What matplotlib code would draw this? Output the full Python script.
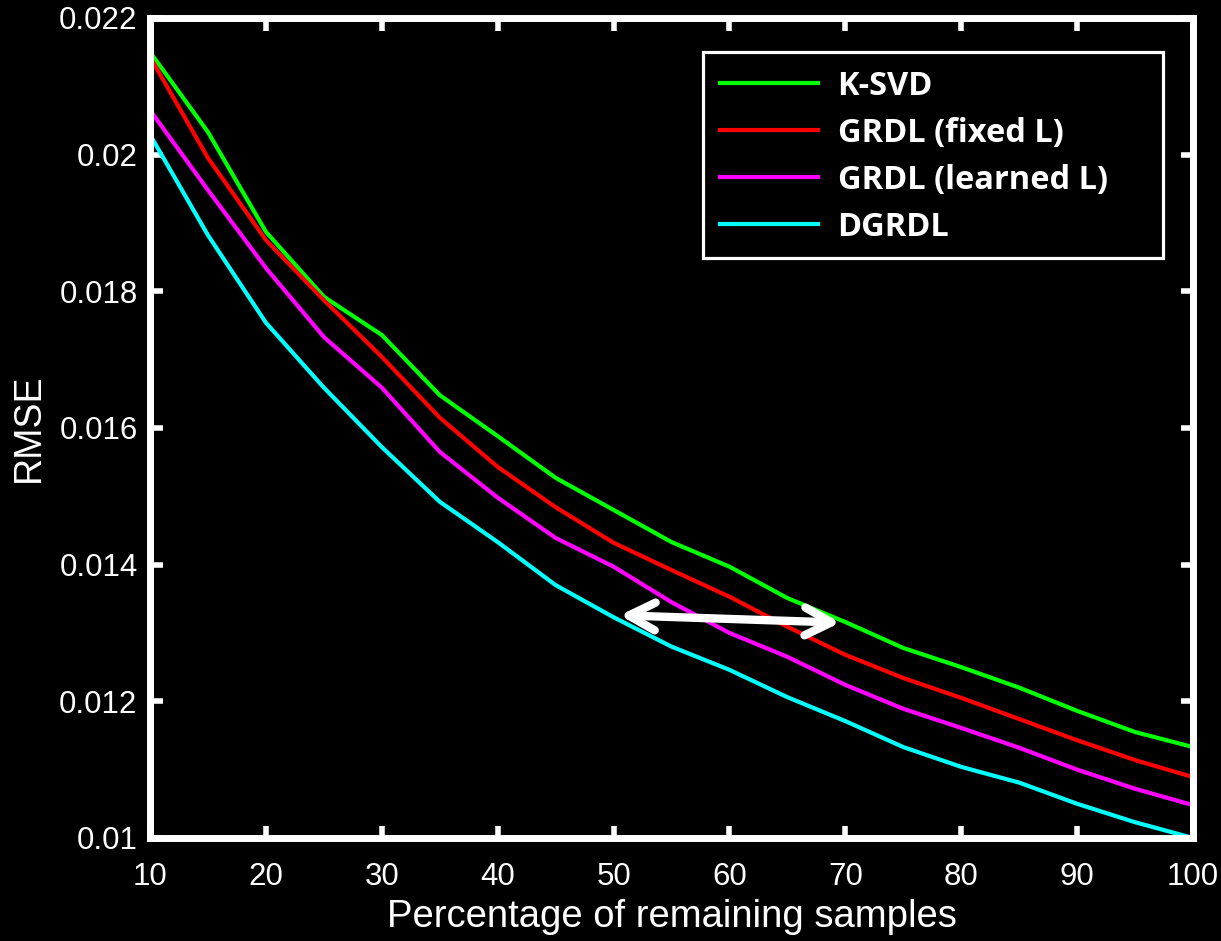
"""
RMSE vs percentage of remaining samples for four dictionary learning methods.
Black background, white axes, MATLAB-style look.
"""
import matplotlib
matplotlib.use("Agg")
import matplotlib.pyplot as plt
from matplotlib.patches import FancyArrowPatch, Rectangle

# percentage of remaining samples
pct = [10, 15, 20, 25, 30, 35, 40, 45, 50, 55, 60, 65, 70, 75, 80, 85, 90, 95, 100]

ksvd = [0.02150, 0.02033, 0.01887, 0.01792, 0.01736, 0.01648, 0.01588, 0.01527, 0.01480,
        0.01433, 0.01397, 0.01351, 0.01316, 0.01278, 0.01250, 0.01220, 0.01186, 0.01155, 0.01133]
grdl_fixed = [0.02143, 0.01995, 0.01875, 0.01787, 0.01704, 0.01615, 0.01543, 0.01484, 0.01432,
              0.01392, 0.01353, 0.01309, 0.01268, 0.01234, 0.01205, 0.01174, 0.01143, 0.01114, 0.01089]
grdl_learned = [0.02065, 0.01948, 0.01834, 0.01733, 0.01659, 0.01565, 0.01498, 0.01439, 0.01397,
                0.01345, 0.01300, 0.01265, 0.01224, 0.01189, 0.01161, 0.01132, 0.01100, 0.01072, 0.01048]
dgrdl = [0.02029, 0.01882, 0.01754, 0.01659, 0.01572, 0.01492, 0.01433, 0.01370, 0.01323,
         0.01280, 0.01246, 0.01206, 0.01171, 0.01133, 0.01104, 0.01081, 0.01050, 0.01023, 0.01000]

labels = ["K-SVD", "GRDL (fixed L)", "GRDL (learned L)", "DGRDL"]
colors = ["#00ff00", "#ff0000", "#ff00ff", "#00ffff"]

# arrow marking the gap between DGRDL and K-SVD
arrow_start = (50.3, 0.01326)
arrow_end = (69.8, 0.01315)

xticks = list(range(10, 101, 10))
yticks = [0.01, 0.012, 0.014, 0.016, 0.018, 0.02, 0.022]
ytick_labels = ["0.01", "0.012", "0.014", "0.016", "0.018", "0.02", "0.022"]

plt.rcParams["font.family"] = ["Liberation Sans", "DejaVu Sans"]

fig = plt.figure(figsize=(12.21, 9.41), dpi=100, facecolor="black")
ax = fig.add_axes([0.1229, 0.1095, 0.8542, 0.8714], facecolor="black")

for y, lab, col in zip([ksvd, grdl_fixed, grdl_learned, dgrdl], labels, colors):
    ax.plot(pct, y, color=col, lw=3.0, label=lab, solid_joinstyle="miter")

ax.set_xlim(10, 100)
ax.set_ylim(0.01, 0.022)
ax.set_xticks(xticks)
ax.set_yticks(yticks)
ax.set_yticklabels(ytick_labels)

for sp in ax.spines.values():
    sp.set_color("white")
    sp.set_linewidth(5)
ax.tick_params(axis="both", which="major", direction="in", length=9, width=4,
               colors="white", labelsize=22.5, top=True, right=True)
ax.tick_params(axis="x", pad=17)
ax.tick_params(axis="y", pad=9)

ax.set_xlabel("Percentage of remaining samples", color="white", fontsize=27.5, labelpad=5)
ax.set_ylabel("RMSE", color="white", fontsize=27, labelpad=9)

arrow = FancyArrowPatch(arrow_start, arrow_end, arrowstyle="<->,head_length=0.95,head_width=0.5",
                        mutation_scale=20, color="white", lw=6, capstyle="round",
                        joinstyle="round", zorder=5)
ax.add_patch(arrow)

# legend box drawn separately so it keeps the wide right margin of the original
ax.add_patch(Rectangle((0.530, 0.707), 0.441, 0.2515, transform=ax.transAxes,
                       facecolor="black", edgecolor="white", lw=2.3, zorder=6))
leg = ax.legend(loc="upper left", bbox_to_anchor=(0.5465, 0.937), frameon=False,
                handlelength=3.0, handletextpad=0.6, labelspacing=0.43, borderpad=0,
                borderaxespad=0,
                prop={"family": "Open Sans", "weight": "bold", "size": 23.5})
leg.set_zorder(7)
for t in leg.get_texts():
    t.set_color("white")

fig.savefig("out.png", dpi=100, facecolor="black")
